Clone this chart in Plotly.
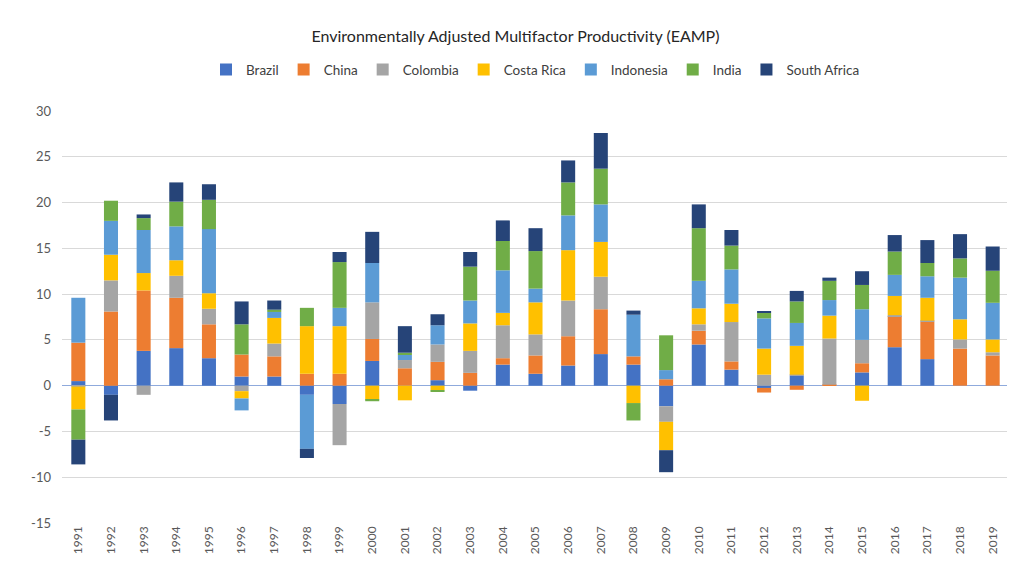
import plotly.graph_objects as go

years = [str(y) for y in range(1991, 2020)]

brazil     = [0.5, -1.0, 3.8, 4.1, 3.0, 1.0, 1.0, -1.0, -2.0, 2.7, 0.0, 0.6, -0.55, 2.3, 1.3, 2.2, 3.45, 2.3, -2.25, 4.5, 1.75, -0.25, 1.1, 0.0, 1.45, 4.2, 2.9, 0.0, 0.0]
china      = [4.2, 8.1, 6.6, 5.5, 3.7, 2.4, 2.2, 1.3, 1.3, 2.4, 1.9, 2.0, 1.4, 0.7, 2.0, 3.2, 4.9, 0.9, 0.7, 1.5, 0.9, -0.5, -0.45, 0.1, 1.0, 3.4, 4.1, 4.05, 3.3]
colombia   = [-0.1, 3.4, -1.0, 2.4, 1.7, -0.6, 1.4, 0.0, -4.5, 4.0, 0.9, 1.9, 2.4, 3.6, 2.3, 3.9, 3.55, 0.0, -1.7, 0.7, 4.3, 1.2, 0.1, 5.05, 2.55, 0.1, 0.1, 1.0, 0.35]
costa_rica = [-2.5, 2.8, 1.9, 1.7, 1.7, -0.8, 2.8, 5.2, 5.2, -1.5, -1.6, -0.5, 3.0, 1.35, 3.5, 5.5, 3.8, -1.9, -3.1, 1.75, 2.0, 2.85, 3.15, 2.5, -1.65, 2.1, 2.5, 2.2, 1.4]
indonesia  = [4.9, 3.7, 4.7, 3.7, 7.0, -1.3, 0.65, -5.9, 2.0, 4.3, 0.55, 2.1, 2.5, 4.65, 1.5, 3.8, 4.1, 4.55, 1.0, 3.0, 3.75, 3.3, 2.5, 1.7, 3.35, 2.3, 2.35, 4.55, 4.0]
india      = [-3.3, 2.2, 1.3, 2.7, 3.2, 3.3, 0.25, 2.0, 5.0, -0.2, 0.25, -0.1, 3.7, 3.2, 4.1, 3.6, 3.9, -1.9, 3.8, 5.75, 2.6, 0.6, 2.35, 2.1, 2.65, 2.55, 1.45, 2.1, 3.5]
s_africa   = [-2.7, -2.8, 0.4, 2.1, 1.7, 2.5, 1.0, -1.0, 1.1, 3.4, 2.9, 1.2, 1.6, 2.25, 2.5, 2.4, 3.9, 0.45, -2.4, 2.6, 1.7, 0.2, 1.15, 0.35, 1.5, 1.8, 2.5, 2.65, 2.65]

y_ticks = [-15, -10, -5, 0, 5, 10, 15, 20, 25, 30]
y_tick_labels = ["-15", "-10", "-5", "0", "5", "10", "15", "20", "25", "30"]

series = [
    ("Brazil", brazil, "#4472C4"),
    ("China", china, "#ED7D31"),
    ("Colombia", colombia, "#A5A5A5"),
    ("Costa Rica", costa_rica, "#FFC000"),
    ("Indonesia", indonesia, "#5B9BD5"),
    ("India", india, "#70AD47"),
    ("South Africa", s_africa, "#264478"),
]

font_family = "Lato, Liberation Sans, sans-serif"

fig = go.Figure()
for name, vals, color in series:
    fig.add_trace(go.Bar(name=name, x=years, y=vals, marker_color=color,
                         marker_line_width=0))

fig.update_layout(
    barmode="relative",
    bargap=0.57,
    width=1015, height=566,
    margin=dict(l=54, r=14, t=103, b=51),
    paper_bgcolor="white", plot_bgcolor="white",
    font=dict(family=font_family, size=13, color="#404040"),
    title=dict(text="Environmentally Adjusted Multifactor Productivity (EAMP)",
               x=0.5, xanchor="center", y=1 - 28 / 566, yanchor="middle",
               font=dict(size=16, color="#262626", family=font_family)),
    legend=dict(orientation="h", x=0.5, xanchor="center", y=1.10, yanchor="middle",
                font=dict(size=13.5, color="#404040"), itemwidth=30,
                traceorder="normal"),
    xaxis=dict(type="category", tickangle=-90, showgrid=False,
               tickfont=dict(size=12, color="#595959"), ticks="",
               showline=False, zeroline=False),
    yaxis=dict(range=[-15, 30], tickvals=y_ticks, ticktext=y_tick_labels,
               showgrid=True, gridcolor="#D9D9D9", ticklabelstandoff=10,
               gridwidth=1, zeroline=True, zerolinecolor="#8FAADC", zerolinewidth=1,
               tickfont=dict(size=13, color="#595959"), ticks="", showline=False),
)

fig.write_html("out.html")
